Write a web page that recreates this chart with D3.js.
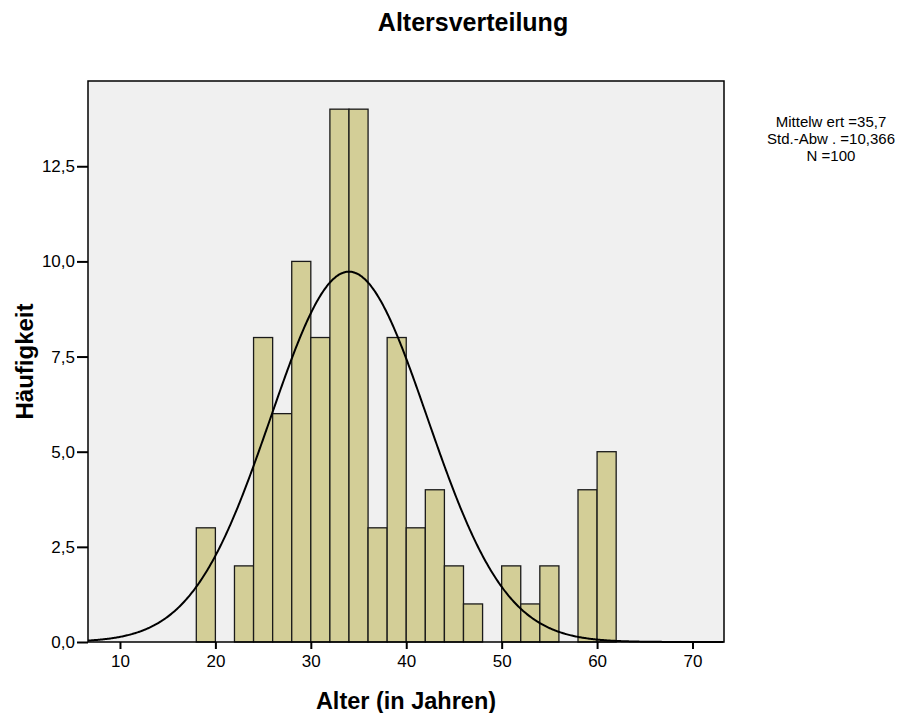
<!DOCTYPE html>
<html>
<head>
<meta charset="utf-8">
<script src="https://cdn.jsdelivr.net/npm/d3@7"></script>
<style>
  body { margin: 0; background: #fff; }
  svg { display: block; font-family: "Liberation Sans", Arial, sans-serif; }
</style>
</head>
<body>
<svg id="chart" width="916" height="713"></svg>
<script>
// Data: age bins (lower edge, width 2 years) and counts
const binStarts = [18, 20, 22, 24, 26, 28, 30, 32, 34, 36, 38, 40, 42, 44, 46, 48, 50, 52, 54, 56, 58, 60];
const counts    = [ 3,  0,  2,  8,  6, 10,  8, 14, 14,  3,  8,  3,  4,  2,  1,  0,  2,  1,  2,  0,  4,  5];
const binWidth = 2;
const xTicks = [10, 20, 30, 40, 50, 60, 70];
const yTicks = [0, 2.5, 5, 7.5, 10, 12.5];
const statsLines = ['Mittelw ert =35,7', 'Std.-Abw . =10,366', 'N =100'];
// fitted normal curve shown in the figure
const curveMean = 34, curveSd = 8.2, nTotal = 100;

const svg = d3.select('#chart');
const margin = { left: 88, top: 81, right: 192, bottom: 71 };
const innerWidth = 916 - margin.left - margin.right;
const innerHeight = 713 - margin.top - margin.bottom;

const g = svg.append('g').attr('transform', `translate(${margin.left},${margin.top})`);

// Scales
const x = d3.scaleLinear().domain([6.65, 73.3]).range([0, innerWidth]);
const y = d3.scaleLinear().domain([0, 14.74]).range([innerHeight, 0]);

const fmt = d => d3.format('.1f')(d).replace('.', ',');

// Plot background
g.append('rect')
  .attr('width', innerWidth)
  .attr('height', innerHeight)
  .style('fill', '#f0f0f0');

// Bars
const bins = binStarts.map((s, i) => ({ start: s, count: counts[i] })).filter(d => d.count > 0);
g.selectAll('.bar')
  .data(bins)
  .enter().append('rect')
  .attr('class', 'bar')
  .attr('x', d => x(d.start))
  .attr('width', d => x(d.start + binWidth) - x(d.start))
  .attr('y', d => y(d.count))
  .attr('height', d => innerHeight - y(d.count))
  .style('fill', '#d3ce97')
  .style('stroke', '#1a1a1a')
  .style('stroke-width', 1.3);

// Normal curve
const pts = d3.range(x.domain()[0], x.domain()[1] + 0.01, 0.1).map(v => {
  const z = (v - curveMean) / curveSd;
  return [v, nTotal * binWidth / (curveSd * Math.sqrt(2 * Math.PI)) * Math.exp(-0.5 * z * z)];
});
g.append('path')
  .datum(pts)
  .attr('d', d3.line().x(d => x(d[0])).y(d => y(d[1])).curve(d3.curveBasis))
  .style('fill', 'none')
  .style('stroke', '#000')
  .style('stroke-width', 2);

// Frame
g.append('rect')
  .attr('width', innerWidth)
  .attr('height', innerHeight)
  .style('fill', 'none')
  .style('stroke', '#000')
  .style('stroke-width', 1.5);

// Axes
const xAxis = g.append('g')
  .attr('transform', `translate(0,${innerHeight})`)
  .call(d3.axisBottom(x).tickValues(xTicks).tickSize(7).tickPadding(6).tickSizeOuter(0));
const yAxis = g.append('g')
  .call(d3.axisLeft(y).tickValues(yTicks).tickFormat(fmt).tickSize(11).tickPadding(2).tickSizeOuter(0));

[xAxis, yAxis].forEach(a => {
  a.select('.domain').remove();
  a.selectAll('line').style('stroke', '#000').style('stroke-width', 2);
  a.selectAll('text')
    .style('font-family', '"Liberation Sans", Arial, sans-serif')
    .style('font-size', '17px')
    .style('fill', '#000');
});

// Title
svg.append('text')
  .attr('x', 473).attr('y', 31)
  .attr('text-anchor', 'middle')
  .style('font-size', '25px').style('font-weight', 'bold')
  .text('Altersverteilung');

// Axis titles
svg.append('text')
  .attr('x', margin.left + innerWidth / 2).attr('y', 709)
  .attr('text-anchor', 'middle')
  .style('font-size', '23.5px').style('font-weight', 'bold')
  .text('Alter (in Jahren)');

svg.append('text')
  .attr('transform', `translate(33,${margin.top + innerHeight / 2}) rotate(-90)`)
  .attr('text-anchor', 'middle')
  .style('font-size', '24px').style('font-weight', 'bold')
  .text('Häufigkeit');

// Stats box
svg.append('g')
  .selectAll('text')
  .data(statsLines)
  .enter().append('text')
  .attr('x', 831)
  .attr('y', (d, i) => 127 + i * 17)
  .attr('text-anchor', 'middle')
  .style('font-size', '15px')
  .text(d => d);
</script>
</body>
</html>
